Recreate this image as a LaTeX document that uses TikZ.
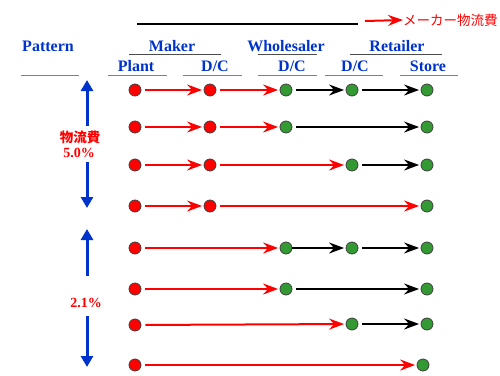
\documentclass[tikz,border=0pt]{standalone}
\usepackage{fontspec}
\setmainfont{Liberation Serif}
\newfontfamily\jp{Noto Sans CJK JP}
\usetikzlibrary{arrows.meta}
\definecolor{hblue}{HTML}{0033CC}
\definecolor{ngreen}{HTML}{339933}
\begin{document}
\begin{tikzpicture}[x=1pt,y=-1pt,
  hd/.style={text=hblue,font=\fontsize{16}{18}\selectfont\bfseries,inner sep=0pt},
  rn/.style={circle,draw=black!75,line width=0.8pt,fill=red,minimum size=12pt,inner sep=0pt},
  gn/.style={rn,fill=ngreen},
  ra/.style={draw=red,line width=2pt,-{Stealth[length=15pt,width=11pt,inset=5pt]},shorten <=4pt,shorten >=1.5pt},
  ba/.style={ra,draw=black},
  va/.style={draw=hblue,line width=3pt,-{Triangle[length=11pt,width=12pt]}},
  ul/.style={draw=gray,line width=1pt},
  uld/.style={draw=black!70,line width=1pt},
  pct/.style={text=red,font=\fontsize{14}{16}\selectfont\bfseries,inner sep=0pt},
  jpl/.style={text=red,inner sep=0pt}]
\useasboundingbox (0,0) rectangle (500,375);

% header
\draw[line width=1.3pt] (137,24) -- (358,24);
\coordinate (ka) at (365,21);
\node[jpl,anchor=west,font=\jp\fontsize{13.5}{15}\selectfont] (mlab) at (403,20) {メーカー物流費};
\draw[draw=red,line width=2pt,-{Stealth[length=15pt,width=11pt,inset=5pt]}] (ka) -- (mlab.west);

\node[hd] (pat) at (48,46) {Pattern};
\node[hd] (mk) at (172,46) {Maker};
\node[hd] (wh) at (286,46) {Wholesaler};
\node[hd] (rt) at (397,46) {Retailer};
\node[hd] (pl) at (136,66) {Plant};
\node[hd] (dc1) at (215,66) {D/C};
\node[hd] (dc2) at (292,66) {D/C};
\node[hd] (dc3) at (355,66) {D/C};
\node[hd] (st) at (428,66) {Store};

\draw[uld] (129,54) -- (221,54);
\draw[uld] (258,54) -- (317,54);
\draw[uld] (350,54) -- (442,54);
\draw[ul] (21,75) -- (79,75);
\draw[ul] (108,75) -- (167,75);
\draw[ul] (183,75) -- (242,75);
\draw[ul] (258,75) -- (317,75);
\draw[ul] (325,75) -- (383,75);
\draw[ul] (400,75) -- (458,75);

% left labels
\node[jpl,font=\jp\bfseries\fontsize{13.5}{15}\selectfont] (c1) at (80,137) {物流費};
\node[pct] (v1) at (79,153) {5.0\%};
\node[pct] (v2) at (86,303) {2.1\%};
\draw[va] (87,126) -- (87,80);
\draw[va] (87,162) -- (87,208);
\draw[va] (87,276) -- (87,229);
\draw[va] (87,316) -- (87,367);

% row 1
\node[rn] (p1) at (135,90) {};
\node[rn] (m1) at (210,90) {};
\node[gn] (w1) at (286,90) {};
\node[gn] (r1) at (352,90) {};
\node[gn] (s1) at (427,90) {};
\draw[ra] (p1) -- (m1);
\draw[ra] (m1) -- (w1);
\draw[ba] (w1) -- (r1);
\draw[ba] (r1) -- (s1);
% row 2
\node[rn] (p2) at (135,127) {};
\node[rn] (m2) at (210,127) {};
\node[gn] (w2) at (286,127) {};
\node[gn] (s2) at (427,127) {};
\draw[ra] (p2) -- (m2);
\draw[ra] (m2) -- (w2);
\draw[ba] (w2) -- (s2);
% row 3
\node[rn] (p3) at (135,165) {};
\node[rn] (m3) at (210,165) {};
\node[gn] (r3) at (352,165) {};
\node[gn] (s3) at (427,165) {};
\draw[ra] (p3) -- (m3);
\draw[ra] (m3) -- (r3);
\draw[ba] (r3) -- (s3);
% row 4
\node[rn] (p4) at (135,206) {};
\node[rn] (m4) at (210,206) {};
\node[gn] (s4) at (427,206) {};
\draw[ra] (p4) -- (m4);
\draw[ra] (m4) -- (s4);
% row 5
\node[rn] (p5) at (135,248) {};
\node[gn] (w5) at (286,248) {};
\node[gn] (r5) at (352,248) {};
\node[gn] (s5) at (427,248) {};
\draw[ra] (p5) -- (w5);
\draw[ba,shorten <=0pt] (w5) -- (r5);
\draw[ba] (r5) -- (s5);
% row 6
\node[rn] (p6) at (135,289) {};
\node[gn] (w6) at (286,289) {};
\node[gn] (s6) at (427,289) {};
\draw[ra] (p6) -- (w6);
\draw[ba] (w6) -- (s6);
% row 7
\node[rn] (p7) at (135,325) {};
\node[gn] (r7) at (352,324) {};
\node[gn] (s7) at (427,324) {};
\draw[ra] (p7) -- (r7);
\draw[ba] (r7) -- (s7);
% row 8
\node[rn] (p8) at (135,365) {};
\node[gn] (s8) at (423,365) {};
\draw[ra] (p8) -- (s8);
\end{tikzpicture}
\end{document}
